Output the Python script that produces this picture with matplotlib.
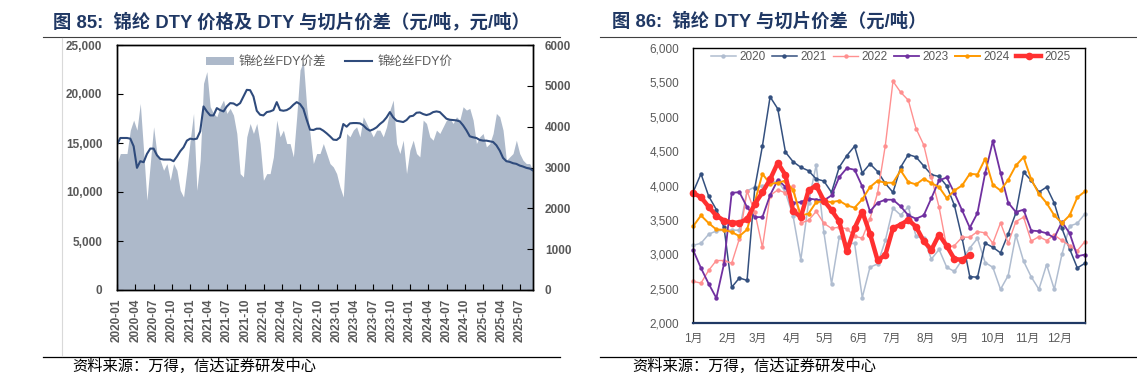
import matplotlib
matplotlib.use('Agg')
import matplotlib.pyplot as plt
import numpy as np
import pandas as pd
from matplotlib.patches import Patch
from matplotlib.lines import Line2D
from matplotlib.ticker import FuncFormatter

plt.rcParams['font.family'] = ['Liberation Sans', 'Noto Sans CJK SC']

# ---------------- Left chart data ----------------
spread_start = '2020-01-01'
spread_end = '2025-09-05'
fdy_spread = [3096, 3342, 3342, 3342, 3915, 4161, 3915, 4570, 3400, 2200,
              3096, 3997, 3342, 3178, 2932, 3096, 2686, 3096, 2932, 2440,
              2277, 2932, 3669, 4324, 2440, 3178, 5061, 5348, 4488, 4324,
              4242, 4488, 4652, 4324, 4447, 4283, 3833, 2850, 2768, 3751,
              4078, 3833, 4078, 3587, 2686, 2850, 2850, 3260, 4161, 3751,
              3915, 3587, 3587, 3260, 4242, 5389, 5594, 4488, 3833, 3096,
              3342, 3342, 3587, 3342, 3096, 3014, 2850, 2522, 2277, 3833,
              3751, 3915, 3997, 3751, 4242, 4078, 3915, 3751, 3915, 3915,
              3751, 3997, 4406, 4652, 3587, 3342, 3669, 2850, 3423, 3669,
              3342, 3260, 4161, 4078, 3751, 3669, 3915, 3833, 3997, 4161,
              4201, 4078, 4242, 4161, 4488, 4406, 4447, 4161, 3587, 3751,
              3833, 3505, 3587, 3833, 4324, 4242, 3915, 3178, 3260, 3342,
              3669, 3342, 3178, 3096, 3096, 2932]
fdy_price = [14835, 15512, 15512, 15512, 15445, 14666, 12464, 13142, 13040, 13887,
             14429, 14429, 13751, 13379, 13311, 13311, 13311, 13142, 13616, 14158,
             14564, 15242, 15445, 15377, 15445, 16190, 18730, 18222, 17816, 17816,
             18561, 18358, 18222, 18730, 19069, 19035, 18832, 19069, 19746, 20424,
             20390, 19746, 18290, 17883, 17816, 18154, 18222, 18358, 19171, 18358,
             18290, 18358, 18561, 18900, 19171, 18968, 18493, 17375, 16359, 16325,
             16461, 16461, 16258, 15987, 15682, 15343, 15309, 15580, 16935, 16664,
             17003, 17036, 17036, 17003, 16800, 16461, 16258, 16393, 16596, 16935,
             17206, 17612, 18154, 17612, 17274, 17206, 17138, 17341, 17714, 17782,
             18087, 18120, 17951, 17850, 17951, 18154, 18222, 18154, 17816, 17477,
             17375, 17341, 17307, 17206, 16800, 16291, 15682, 15580, 15512, 15309,
             15242, 15242, 15174, 15106, 14767, 14225, 13480, 13142, 13074, 12938,
             12870, 12701, 12599, 12464, 12396, 12193]

# ---------------- Right chart data (weekly) ----------------
y2020 = [3130, 3160, 3290, 3340, 3350, 3350, 3350, 3920, 3980, 3990, 4030, 4070, 3900,
         3550, 2920, 3750, 4300, 3320, 2570, 3250, 3150, 3160, 2370, 2810, 2860, 3200,
         3670, 3570, 3690, 3260, 3230, 2930, 3070, 2810, 2750, 2920, 3090, 3230, 2880,
         2810, 2490, 2690, 3280, 2900, 2670, 2490, 2850, 2490, 3000, 3410, 3450, 3590]
y2021 = [3910, 4170, 3845, 3650, 3390, 2520, 2655, 2620, 3960, 4575, 5290, 5115, 4485,
         4345, 4265, 4215, 4095, 4065, 3900, 4266, 4436, 4572, 4182, 4315, 4203, 4030,
         3900, 4267, 4450, 4415, 4285, 4158, 4131, 3993, 3710, 3233, 2675, 2665, 3160,
         3102, 3020, 3296, 3600, 4195, 4074, 3904, 3977, 3745, 3375, 3078, 2801, 2869]
y2022 = [2605, 2580, 2765, 2909, 2909, 2870, 3225, 3920, 3613, 3100, 3854, 3937, 3892,
         3995, 3454, 3493, 3623, 3451, 3375, 3395, 3370, 3262, 3234, 3515, 3893, 4580,
         5516, 5356, 5240, 4828, 4591, 4120, 3686, 3100, 3126, 3248, 3248, 3330, 3311,
         3160, 3456, 3160, 3476, 3539, 3190, 3257, 3199, 3280, 3200, 3126, 3053, 3185]
y2023 = [3055, 2799, 2571, 2363, 2862, 3893, 3903, 3685, 3540, 3540, 3860, 4080, 3980,
         3750, 3758, 3810, 3795, 3783, 3856, 4122, 4253, 4229, 3986, 3624, 3750, 3793,
         3793, 3696, 3566, 3517, 3566, 3817, 4074, 4117, 3890, 3638, 3386, 3600, 4180,
         4645, 4185, 3750, 3614, 3648, 3345, 3335, 3306, 3238, 3470, 3306, 2971, 2995]
y2024 = [3409, 3564, 3453, 3360, 3356, 3322, 3264, 3360, 3758, 4169, 4024, 4039, 4072,
         3928, 3564, 3590, 3759, 3769, 3759, 3778, 3711, 3677, 3798, 3977, 4069, 4040,
         4040, 4219, 4050, 4016, 4098, 4035, 3977, 3817, 3928, 4001, 4170, 4160, 4388,
         4011, 3928, 4083, 4291, 4412, 4088, 3880, 3745, 3566, 3454, 3566, 3827, 3914]
y2025 = [3890, 3830, 3690, 3560, 3490, 3460, 3460, 3510, 3730, 3900, 4090, 4330, 4150,
         3630, 3540, 3930, 4000, 3780, 3640, 3480, 3040, 3380, 3620, 3300, 2910, 2990,
         3380, 3430, 3500, 3400, 3190, 3065, 3285, 3120, 2930, 2920, 2990]
years = ['2020', '2021', '2022', '2023', '2024', '2025']
month_labels = ['1月', '2月', '3月', '4月', '5月', '6月', '7月', '8月', '9月', '10月', '11月', '12月']
month_start_day = [0, 31, 59, 90, 120, 151, 181, 212, 243, 273, 304, 334]

W, H = 1137, 377
fig = plt.figure(figsize=(W / 100, H / 100), dpi=100)


def fx(px):
    return px / W


def fy(py):
    return 1 - py / H


GRAY = '#595959'
NAVY = '#203864'

# ---------------- Titles, rules, sources ----------------
fig.text(fx(53), fy(22), '图 85:  锦纶 DTY 价格及 DTY 与切片价差（元/吨，元/吨）',
         fontsize=13.2, fontweight='bold', color=NAVY, va='center', ha='left')
fig.text(fx(612), fy(22), '图 86:  锦纶 DTY 与切片价差（元/吨）',
         fontsize=13.2, fontweight='bold', color=NAVY, va='center', ha='left')
for x0, x1 in [(43, 560), (600, 1137)]:
    fig.add_artist(Line2D([fx(x0), fx(x1)], [fy(37), fy(37)], transform=fig.transFigure,
                          color='#404040', lw=0.8))
    fig.add_artist(Line2D([fx(x0), fx(x1)], [fy(357), fy(357)], transform=fig.transFigure,
                          color='black', lw=0.9))
fig.add_artist(Line2D([fx(62), fx(62)], [fy(38), fy(356)], transform=fig.transFigure,
                      color='#d9d9d9', lw=0.8))
fig.text(fx(72), fy(366), '资料来源：万得，信达证券研发中心', fontsize=11,
         color='black', va='center', ha='left')
fig.text(fx(632), fy(366), '资料来源：万得，信达证券研发中心', fontsize=11,
         color='black', va='center', ha='left')

# ---------------- Left chart ----------------
ax1 = fig.add_axes([fx(117), fy(290), fx(533) - fx(117), fy(45) - fy(290)])
ax1r = ax1.twinx()
dates = pd.date_range(spread_start, spread_end, periods=len(fdy_spread))
ax1r.fill_between(dates, fdy_spread, 0, color='#adb9ca', lw=0)
ax1.plot(dates, fdy_price, color='#2f4b7c', lw=1.5)
ax1.set_zorder(ax1r.get_zorder() + 1)
ax1.patch.set_visible(False)
ax1.set_xlim(pd.Timestamp(spread_start), pd.Timestamp(spread_end))
ax1.set_ylim(0, 25000)
ax1r.set_ylim(0, 6000)
ax1.set_yticks(np.arange(0, 25001, 5000))
ax1r.set_yticks(np.arange(0, 6001, 1000))
ax1.yaxis.set_major_formatter(FuncFormatter(lambda v, p: f'{v:,.0f}'))
qt = pd.date_range('2020-01-01', '2025-07-01', freq='QS')
ax1.set_xticks(qt)
ax1.set_xticklabels([d.strftime('%Y-%m') for d in qt], rotation=90)
ax1.tick_params(axis='y', direction='in', length=4, pad=10.5, labelsize=8.5,
                labelcolor=GRAY, width=0.8)
ax1r.tick_params(axis='y', direction='in', length=4, pad=8.5, labelsize=8.5,
                 labelcolor=GRAY, width=0.8)
ax1.tick_params(axis='x', direction='in', length=4, pad=6, labelsize=8.5,
                labelcolor=GRAY, width=0.8)
for lab in ax1.get_yticklabels() + ax1r.get_yticklabels() + ax1.get_xticklabels():
    lab.set_fontweight('bold')
for a in (ax1, ax1r):
    for s in a.spines.values():
        s.set_color('black')
        s.set_linewidth(1.0)
h_area = Patch(facecolor='#adb9ca', edgecolor='none')
h_line = Line2D([], [], color='#2f4b7c', lw=1.5)
ax1.legend([h_area, h_line], ['锦纶丝FDY价差', '锦纶丝FDY价'], loc='center left',
           bbox_to_anchor=(fx(206), fy(62)), bbox_transform=fig.transFigure,
           ncol=2, frameon=False, fontsize=9, handlelength=2.2, handleheight=0.6,
           columnspacing=1.5, handletextpad=0.4, borderpad=0, borderaxespad=0,
           labelcolor=GRAY)

# ---------------- Right chart ----------------
ax2 = fig.add_axes([fx(693.3), fy(323), fx(1085) - fx(693.3), fy(48) - fy(323)])
series = [y2020, y2021, y2022, y2023, y2024, y2025]
colors = ['#b0bdd0', '#34507f', '#ff9090', '#7030a0', '#ff9900', '#ff3030']
lws = [1.1, 1.1, 1.0, 1.3, 1.4, 3.2]
mss = [3.2, 3.2, 3.2, 3.2, 3.2, 5.5]
handles = []
for yr, ys, c, lw, ms in zip(years, series, colors, lws, mss):
    h, = ax2.plot(np.arange(len(ys)), ys, color=c, lw=lw, marker='o', ms=ms,
                  markeredgewidth=0, clip_on=False, label=yr)
    handles.append(h)
ax2.set_xlim(0, 51)
ax2.set_ylim(2000, 6000)
ax2.set_yticks(np.arange(2000, 6001, 500))
ax2.yaxis.set_major_formatter(FuncFormatter(lambda v, p: f'{v:,.0f}'))
ax2.set_xticks(np.array(month_start_day) / 7)
ax2.set_xticklabels(month_labels)
ax2.tick_params(axis='both', length=0, labelsize=8.5, labelcolor=GRAY)
ax2.tick_params(axis='y', pad=10)
ax2.tick_params(axis='x', pad=7)
for k, s in ax2.spines.items():
    s.set_color('black')
    s.set_linewidth(1.0)
ax2.spines['bottom'].set_color('#1f3864')
ax2.spines['bottom'].set_linewidth(1.6)
ax2.legend(handles=handles, loc='center left', bbox_to_anchor=(fx(711), fy(57.5)),
           bbox_transform=fig.transFigure, ncol=6, frameon=False, fontsize=8.5,
           handlelength=2.1, handletextpad=0.3, columnspacing=0.55, borderpad=0,
           borderaxespad=0, labelcolor=GRAY)

fig.savefig('out.png', dpi=100)
